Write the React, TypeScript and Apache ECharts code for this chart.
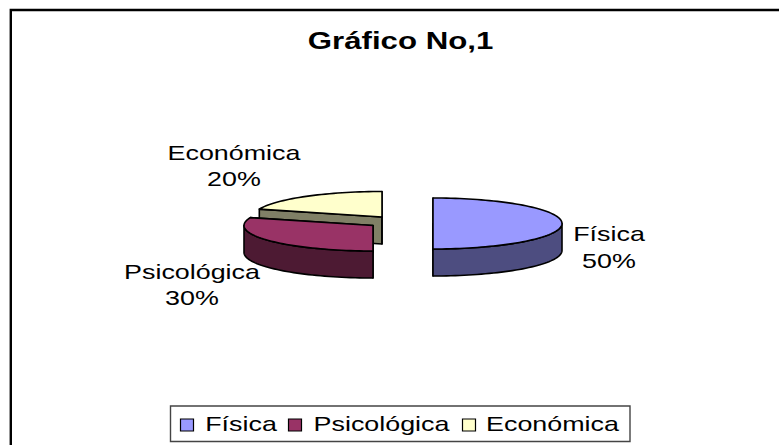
import React, { useEffect, useRef } from "react";
import * as echarts from "echarts";

const titleText = "Gráfico No,1";
const categories = ["Física", "Psicológica", "Económica"];
const values = [50, 30, 20];
const topColors = ["#9999FF", "#993366", "#FFFFCC"];
const sideColors = ["#4D4D80", "#4D1A33", "#808066"];

// layout only
const W = 779, H = 445;
const RX = 129, RY = 25.5, DEPTH = 27;
const apexes = [[433, 223.5], [373, 225.5], [382, 217]];
const labelCenters = [[609, 240.5, 267], [192, 278.5, 304.5], [234, 159.5, 185.5]];
const FONT = "Liberation Sans, Arial, sans-serif";
const legendSwatches = [180.5, 288.5, 462.5];
const legendTextCenters = [241, 381.5, 552.5];

const total = values.reduce((a, b) => a + b, 0);
const rad = (d: number) => (d * Math.PI) / 180;

function rim(c: number[], deg: number, dy = 0): number[] {
  return [c[0] + RX * Math.sin(rad(deg)), c[1] - RY * Math.cos(rad(deg)) + dy];
}
function arc(c: number[], a: number, b: number, dy = 0): number[][] {
  const n = Math.max(2, Math.ceil(Math.abs(b - a) / 2));
  const pts: number[][] = [];
  for (let i = 0; i <= n; i++) pts.push(rim(c, a + ((b - a) * i) / n, dy));
  return pts;
}
function textEl(text: string, x: number, baseline: number, size: number, stretch: number, bold = false) {
  return {
    type: "text",
    x,
    y: baseline,
    scaleX: stretch,
    silent: true,
    style: {
      text,
      fill: "#000",
      font: `${bold ? "bold " : ""}${size}px ${FONT}`,
      textAlign: "center",
      textVerticalAlign: "bottom",
    },
  };
}

function sliceRenderer(i: number) {
  return (_params: any, api: any) => {
    const value = api.value(0);
    const before = values.slice(0, i).reduce((a, b) => a + b, 0);
    const start = (before / total) * 360;
    const end = start + (value / total) * 360;
    const c = apexes[i];
    const stroke = { stroke: "#000", lineWidth: 1.6, lineJoin: "round" };
    const children: any[] = [];
    const cut = (deg: number) => {
      const r = rim(c, deg);
      children.push({
        type: "polygon",
        shape: { points: [c, r, [r[0], r[1] + DEPTH], [c[0], c[1] + DEPTH]] },
        style: { fill: sideColors[i], ...stroke },
      });
    };
    cut(start);
    cut(end);
    const wa = Math.max(start, 90), wb = Math.min(end, 270);
    if (wb > wa) {
      children.push({
        type: "polygon",
        shape: { points: [...arc(c, wa, wb), ...arc(c, wb, wa, DEPTH)] },
        style: { fill: sideColors[i], ...stroke },
      });
    }
    children.push({
      type: "polygon",
      shape: { points: [c, ...arc(c, start, end)] },
      style: { fill: topColors[i], ...stroke },
    });
    const [lx, b1, b2] = labelCenters[i];
    children.push(textEl(categories[i], lx, b1 + 4, 21, 1.28));
    children.push(textEl(`${Math.round((value / total) * 100)}%`, lx, b2 + 4, 21, 1.28));
    return { type: "group", children };
  };
}

export default function App() {
  const ref = useRef<HTMLDivElement>(null);
  useEffect(() => {
    document.body.style.margin = "0";
    const chart = echarts.init(ref.current!, undefined, { renderer: "svg" });
    const order = [2, 1, 0];
    chart.setOption({
      animation: false,
      backgroundColor: "#fff",
      graphic: [
        {
          type: "polyline",
          shape: { points: [[10.8, H], [10.8, 10], [W, 10]] },
          style: { stroke: "#000", lineWidth: 2.4, fill: "none" },
        },
        textEl(titleText, 400.5, 52.5, 24, 1.3, true),
        {
          type: "rect",
          shape: { x: 170.5, y: 406, width: 459.5, height: 35.5 },
          style: { fill: "#fff", stroke: "#444", lineWidth: 1.4 },
        },
        ...categories.flatMap((name, i) => [
          {
            type: "rect",
            shape: { x: legendSwatches[i], y: 419, width: 13, height: 12 },
            style: { fill: topColors[i], stroke: "#000", lineWidth: 1.2 },
          },
          textEl(name, legendTextCenters[i], 434, 21, 1.28),
        ]),
      ],
      series: order.map((i) => ({
        type: "custom",
        name: categories[i],
        coordinateSystem: "none",
        silent: true,
        data: [[values[i]]],
        renderItem: sliceRenderer(i),
      })),
    });
    return () => chart.dispose();
  }, []);
  return <div ref={ref} style={{ position: "absolute", left: 0, top: 0, width: W, height: H }} />;
}
